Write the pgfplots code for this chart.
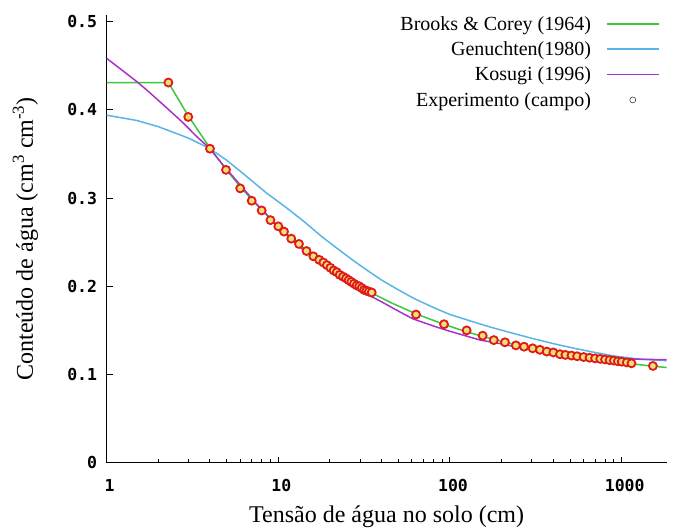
\documentclass[border=0pt]{standalone}
\usepackage{fontspec}
\setmainfont{Liberation Serif}
\setmonofont{DejaVu Sans Mono}
\usepackage{pgfplots}
\pgfplotsset{compat=1.18}
\definecolor{bcgreen}{RGB}{60,200,60}
\definecolor{vgblue}{RGB}{90,180,230}
\definecolor{kospurple}{RGB}{170,50,200}
\definecolor{expred}{RGB}{225,25,25}
\definecolor{expfill}{RGB}{235,225,120}
\pgfplotsset{
  lineleg/.style={legend image code/.code={\draw[##1] (0bp,0bp) -- (52bp,0bp);}},
  markleg/.style={legend image code/.code={\draw[##1, mark size=3bp, mark options={fill=white}] plot coordinates {(26bp,0bp)};}},
}

\pgfplotstableread{
h theta
2.29 0.431
2.99 0.392
4.0 0.356
4.96 0.332
6.0 0.311
7.0 0.297
8.0 0.286
9.0 0.275
10.0 0.268
10.8 0.262
11.9 0.254
13.2 0.248
14.6 0.240
16.0 0.234
17.3 0.230
18.3 0.227
19.2 0.224
20.1 0.221
21.0 0.218
21.9 0.216
22.8 0.213
23.8 0.211
24.8 0.209
25.7 0.207
26.6 0.205
27.6 0.203
28.6 0.201
29.6 0.200
30.6 0.198
31.6 0.196
32.6 0.195
33.7 0.194
35.0 0.193
63.4 0.168
92.3 0.157
125 0.150
155 0.144
180 0.139
209 0.1365
242 0.133
270 0.1315
303 0.1297
334 0.128
366 0.126
400 0.125
437 0.123
470 0.1222
510 0.1215
550 0.1207
600 0.1198
650 0.1190
700 0.1183
750 0.1177
800 0.1170
850 0.1163
900 0.1158
950 0.1150
1000 0.1145
1070 0.1137
1140 0.1127
1520 0.1097
}\exptable

\pgfplotstableread{
h theta
1 0.431
2.29 0.431
2.99 0.3932
4.0 0.3567
4.96 0.3325
6 0.3130
7 0.2984
8 0.2864
9 0.2765
10 0.2680
12 0.2543
14 0.2435
17 0.2309
20 0.2211
25 0.2088
30 0.1997
35 0.1925
45 0.1817
63.4 0.1688
92.3 0.1568
125 0.1484
155 0.1432
209 0.1366
270 0.1316
334 0.1279
400 0.1250
500 0.1217
650 0.1182
800 0.1158
1000 0.1134
1140 0.1121
1520 0.1094
1829 0.1079
}\bctable

\pgfplotstableread{
h theta
1 0.394
1.5 0.388
2 0.381
3 0.368
4 0.356
5 0.343
6.5 0.325
8.5 0.306
11 0.290
14 0.274
18 0.256
22 0.243
27 0.230
33 0.218
40 0.207
50 0.196
62 0.186
80 0.176
100 0.168
130 0.161
170 0.154
230 0.147
300 0.141
400 0.135
550 0.129
700 0.125
900 0.121
1200 0.118
1500 0.1165
1829 0.1157
}\vgtable

\pgfplotstableread{
h theta
1 0.4585
1.25 0.444
1.5 0.432
1.75 0.421
2.05 0.409
2.4 0.397
2.8 0.385
3.3 0.371
4.0 0.356
4.7 0.339
5.47 0.324
6.5 0.307
7.5 0.293
8.5 0.282
10 0.267
12 0.253
14 0.241
17 0.228
20 0.218
25 0.205
30 0.195
39 0.1835
51 0.171
61 0.163
80 0.155
96 0.150
120 0.1445
150 0.139
190 0.1355
233 0.132
300 0.129
366 0.1265
460 0.124
572 0.1215
700 0.120
893 0.1185
1300 0.1172
1829 0.1168
}\kostable

\begin{document}
\begin{tikzpicture}[x=1bp,y=1bp]
\begin{axis}[
  at={(0,0)}, anchor=south west,
  scale only axis, width=560.1bp, height=447.7bp,
  xmode=log, xmin=1, xmax=1829, ymin=0, ymax=0.5076,
  axis lines=left, axis line style={-, line width=1.6bp},
  xtick={1,10,100,1000}, xticklabels={1,10,100,1000},
  minor xtick={2,3,4,5,6,7,8,9,20,30,40,50,60,70,80,90,200,300,400,500,600,700,800,900},
  ytick={0,0.1,0.2,0.3,0.4,0.5}, yticklabels={0,0.1,0.2,0.3,0.4,0.5},
  tick align=inside, major tick length=6bp, minor tick length=3.5bp,
  every tick/.style={black, line width=1bp},
  xticklabel style={font=\fontsize{16.5bp}{16.5bp}\selectfont\ttfamily\bfseries, yshift=-13bp, xshift=3bp},
  yticklabel style={font=\fontsize{16.5bp}{16.5bp}\selectfont\ttfamily\bfseries, xshift=-6bp},
  xlabel={Tensão de água no solo (cm)},
  ylabel={Conteúdo de água (cm\textsuperscript{3} cm\textsuperscript{-3})},
  label style={font=\fontsize{24bp}{27bp}\selectfont},
  xlabel style={at={(axis description cs:0.5,-0.12)}, anchor=center},
  ylabel style={at={(axis description cs:-0.145,0.5)}, anchor=center},
  legend plot pos=right, legend cell align=right,
  legend style={draw=none, fill=none, at={(1,1)}, anchor=north east,
    xshift=-4bp, yshift=3bp, font=\fontsize{20bp}{24bp}\selectfont, row sep=6bp,
    /tikz/every odd column/.append style={column sep=13bp}},
]
\addplot[bcgreen, line width=1.5bp, lineleg] table[x=h,y=theta] {\bctable};
\addlegendentry{Brooks \& Corey (1964)}
\addplot[vgblue, line width=1.5bp, lineleg] table[x=h,y=theta] {\vgtable};
\addlegendentry{Genuchten(1980)}
\addplot[kospurple, line width=1.5bp, lineleg] table[x=h,y=theta] {\kostable};
\addlegendentry{Kosugi (1996)}
\addplot[only marks, mark=*, mark size=4bp, mark options={draw=expred, fill=expfill, line width=1.8bp}, markleg] table[x=h,y=theta] {\exptable};
\addlegendentry{Experimento (campo)}
\end{axis}
\pgfresetboundingbox
\path (-106.6,-66.3) rectangle (571.4,462.7);
\end{tikzpicture}
\end{document}
